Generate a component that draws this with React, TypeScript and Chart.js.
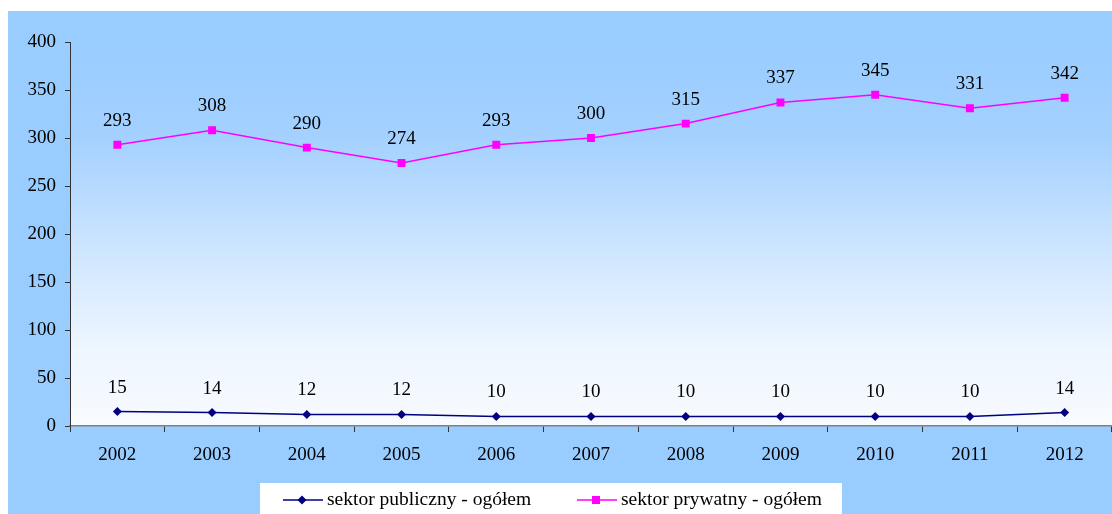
import React, { useEffect, useRef } from "react";
import { Chart, registerables } from "chart.js";

Chart.register(...registerables);

const categories = ["2002", "2003", "2004", "2005", "2006", "2007", "2008", "2009", "2010", "2011", "2012"];
const publicSector = [15, 14, 12, 12, 10, 10, 10, 10, 10, 10, 14];
const privateSector = [293, 308, 290, 274, 293, 300, 315, 337, 345, 331, 342];
const seriesNames = ["sektor publiczny - ogółem", "sektor prywatny - ogółem"];

const FONT = "'Liberation Serif', 'Times New Roman', serif";
const NAVY = "#000080";
const PINK = "#FF00FF";

const bgPlugin = {
  id: "bgPlugin",
  beforeDraw(chart: any) {
    const { ctx, chartArea } = chart;
    ctx.save();
    ctx.fillStyle = "#ffffff";
    ctx.fillRect(0, 0, chart.width, chart.height);
    ctx.fillStyle = "#99CCFF";
    ctx.fillRect(8, 11, chart.width - 8, chart.height - 11);
    const g = ctx.createLinearGradient(0, chartArea.top, 0, chartArea.bottom);
    g.addColorStop(0, "#99CCFF");
    g.addColorStop(0.25, "#A4D1FF");
    g.addColorStop(0.55, "#CFE6FF");
    g.addColorStop(0.8, "#EEF6FF");
    g.addColorStop(1, "#F8FBFF");
    ctx.fillStyle = g;
    ctx.fillRect(chartArea.left, chartArea.top, chartArea.right - chartArea.left, chartArea.bottom - chartArea.top);
    ctx.restore();
  },
  afterDatasetsDraw(chart: any) {
    const { ctx } = chart;
    ctx.save();
    ctx.font = `19px ${FONT}`;
    ctx.fillStyle = "#000";
    ctx.textAlign = "center";
    ctx.textBaseline = "middle";
    chart.data.datasets.forEach((ds: any, i: number) => {
      const meta = chart.getDatasetMeta(i);
      meta.data.forEach((pt: any, j: number) => {
        ctx.fillText(String(ds.data[j]), pt.x, pt.y - 24);
      });
    });
    // legend
    const bx = 260, by = 483, bw = 582, bh = 40;
    ctx.fillStyle = "#ffffff";
    ctx.fillRect(bx, by, bw, bh);
    const items = [
      { x: 283, color: NAVY, style: "diamond", text: seriesNames[0] },
      { x: 577, color: PINK, style: "square", text: seriesNames[1] },
    ];
    const ly = 500;
    items.forEach((it) => {
      ctx.strokeStyle = it.color;
      ctx.lineWidth = 1.5;
      ctx.beginPath();
      ctx.moveTo(it.x, ly);
      ctx.lineTo(it.x + 40, ly);
      ctx.stroke();
      ctx.fillStyle = it.color;
      const cx = it.x + 19;
      if (it.style === "diamond") {
        ctx.beginPath();
        ctx.moveTo(cx, ly - 4.5);
        ctx.lineTo(cx + 4.5, ly);
        ctx.lineTo(cx, ly + 4.5);
        ctx.lineTo(cx - 4.5, ly);
        ctx.closePath();
        ctx.fill();
      } else {
        ctx.fillRect(cx - 4, ly - 4, 8, 8);
      }
      ctx.fillStyle = "#000";
      ctx.textAlign = "left";
      ctx.font = `19.5px ${FONT}`;
      ctx.fillText(it.text, it.x + 44, ly);
    });
    ctx.restore();
  },
};

export default function App() {
  const ref = useRef<HTMLCanvasElement | null>(null);
  useEffect(() => {
    if (!ref.current) return;
    const chart = new Chart(ref.current, {
      type: "line",
      data: {
        labels: categories,
        datasets: [
          {
            label: seriesNames[0],
            data: publicSector,
            borderColor: NAVY,
            backgroundColor: NAVY,
            borderWidth: 1.5,
            pointStyle: "rectRot",
            pointRadius: 4.5,
            pointBorderWidth: 0,
            tension: 0,
          },
          {
            label: seriesNames[1],
            data: privateSector,
            borderColor: PINK,
            backgroundColor: PINK,
            borderWidth: 1.5,
            pointStyle: "rect",
            pointRadius: 5.6,
            pointBorderWidth: 0,
            tension: 0,
          },
        ],
      },
      options: {
        animation: false,
        responsive: false,
        layout: { autoPadding: false, padding: { left: 8, top: 42, right: 0, bottom: 0 } },
        plugins: { legend: { display: false }, tooltip: { enabled: false } },
        scales: {
          x: {
            offset: true,
            grid: { offset: true, drawOnChartArea: false, drawTicks: true, tickLength: 6, color: "#333" },
            border: { color: "#808080", width: 1.5 },
            ticks: { color: "#000", font: { family: FONT, size: 19 }, padding: 12 },
            afterFit(scale: any) {
              scale.height = 88;
              scale.paddingLeft = 0;
              scale.paddingRight = 0;
            },
          },
          y: {
            min: 0,
            max: 400,
            ticks: { stepSize: 50, color: "#000", font: { family: FONT, size: 19 }, padding: 9 },
            grid: { drawOnChartArea: false, drawTicks: true, tickLength: 5, color: "#333" },
            border: { color: "#333", width: 1 },
            afterFit(scale: any) {
              scale.width = 62;
              scale.paddingTop = 0;
              scale.paddingBottom = 0;
            },
          },
        },
      },
      plugins: [bgPlugin],
    });
    return () => chart.destroy();
  }, []);
  return (
    <div style={{ position: "absolute", left: 0, top: 0, width: 1112, height: 514 }}>
      <canvas ref={ref} width={1112} height={514} style={{ display: "block" }} />
    </div>
  );
}
